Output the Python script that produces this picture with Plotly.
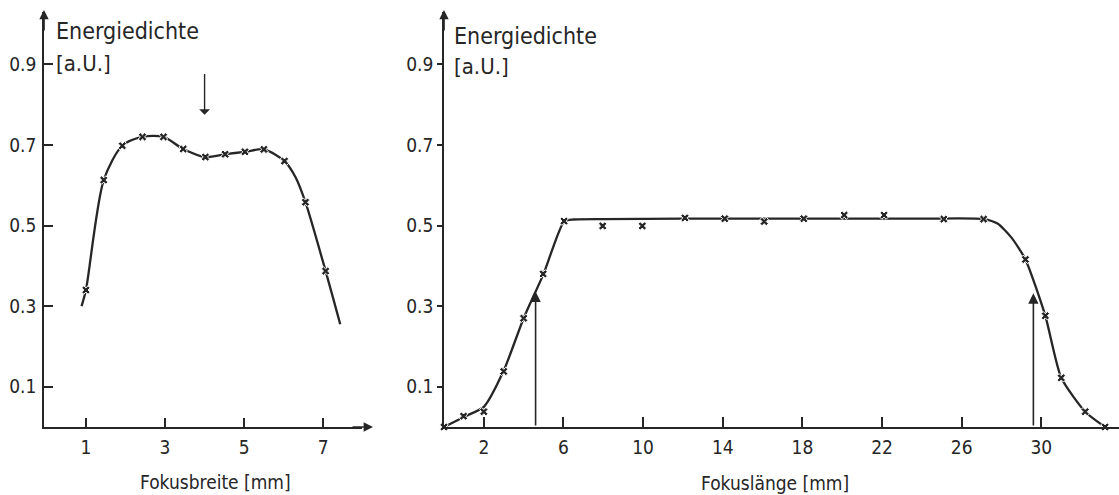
import plotly.graph_objects as go

# ---------------- data ----------------
# Left panel: Fokusbreite [mm] vs Energiedichte [a.U.]
breite_x = [1.0, 1.45, 1.92, 2.43, 2.96, 3.46, 4.02, 4.52, 5.02, 5.5, 6.02, 6.55, 7.06]
breite_y = [0.34, 0.613, 0.698, 0.72, 0.72, 0.69, 0.67, 0.677, 0.683, 0.689, 0.66, 0.558, 0.387]
# smooth hand-drawn curve through the points (with its drawn ends)
breite_curve_x = [0.89, 1.0, 1.45, 1.92, 2.43, 2.96, 3.46, 4.02, 4.52, 5.02, 5.5, 6.02, 6.3, 6.55, 7.06, 7.43]
breite_curve_y = [0.30, 0.34, 0.613, 0.698, 0.72, 0.72, 0.69, 0.67, 0.677, 0.683, 0.689, 0.66, 0.62, 0.558, 0.387, 0.255]

# Right panel: Fokuslänge [mm] vs Energiedichte [a.U.]
laenge_x = [0.0, 0.98, 2.0, 3.0, 4.0, 4.98, 6.03, 7.97, 9.96, 12.1, 14.1, 16.08, 18.07, 20.1, 22.1,
            25.1, 27.1, 29.2, 30.2, 31.0, 32.2, 33.2]
laenge_y = [0.0, 0.027, 0.038, 0.138, 0.27, 0.38, 0.511, 0.499, 0.499, 0.519, 0.517, 0.51, 0.517,
            0.526, 0.526, 0.516, 0.516, 0.416, 0.276, 0.122, 0.038, 0.0]
laenge_curve_x = [0.0, 1.0, 2.0, 3.0, 4.0, 5.0, 6.03, 6.5, 8.0, 12.0, 16.0, 20.0, 24.0, 27.1, 27.8,
                  28.5, 29.2, 30.2, 31.0, 32.2, 33.2]
laenge_curve_y = [0.0, 0.025, 0.05, 0.14, 0.27, 0.38, 0.51, 0.515, 0.516, 0.517, 0.517, 0.517, 0.517,
                  0.516, 0.505, 0.47, 0.416, 0.276, 0.122, 0.038, 0.0]

# marked positions (arrows)
breite_mark_x = 4.0
breite_mark_y = [0.775, 0.88]
laenge_mark_x = [4.6, 29.6]
laenge_mark_top = [0.336, 0.332]

y_ticks = [0.1, 0.3, 0.5, 0.7, 0.9]
breite_ticks = [1, 3, 5, 7]
laenge_ticks = [2, 6, 10, 14, 18, 22, 26, 30]

# ---------------- style ----------------
INK = "#262626"
FONT = "DejaVu Sans Condensed, Liberation Sans Narrow, DejaVu Sans, sans-serif"
W, H = 1119, 495

def px_x(p):
    return p / W

def px_y(p):
    return 1 - p / H

fig = go.Figure()

mk = dict(symbol="x", size=7.5, color=INK, line=dict(color="white", width=1.0))

fig.add_trace(go.Scatter(x=breite_curve_x, y=breite_curve_y, mode="lines",
                         line=dict(color=INK, width=2.3, shape="spline", smoothing=0.8),
                         xaxis="x", yaxis="y", hoverinfo="skip", cliponaxis=False))
fig.add_trace(go.Scatter(x=breite_x, y=breite_y, mode="markers", marker=mk,
                         xaxis="x", yaxis="y", cliponaxis=False))
fig.add_trace(go.Scatter(x=laenge_curve_x, y=laenge_curve_y, mode="lines",
                         line=dict(color=INK, width=2.3, shape="spline", smoothing=0.6),
                         xaxis="x2", yaxis="y2", hoverinfo="skip", cliponaxis=False))
fig.add_trace(go.Scatter(x=laenge_x, y=laenge_y, mode="markers", marker=mk,
                         xaxis="x2", yaxis="y2", cliponaxis=False))

y_dom = [px_y(427), px_y(12)]
y_rng = [0, 1.03]

axis_common = dict(showgrid=False, zeroline=False, showline=True, linecolor=INK, linewidth=1.7,
                   tickcolor=INK, tickwidth=1.7, tickfont=dict(family=FONT, size=19, color=INK))

fig.update_layout(
    width=W, height=H,
    margin=dict(l=0, r=0, t=0, b=0),
    paper_bgcolor="white", plot_bgcolor="white",
    showlegend=False,
    xaxis=dict(domain=[px_x(44), px_x(362)], range=[-0.06, 7.98], tickvals=breite_ticks,
               ticks="inside", ticklen=9, ticklabelstandoff=2, anchor="y", **axis_common),
    yaxis=dict(domain=y_dom, range=y_rng, tickvals=y_ticks, tickformat=".1f",
               ticks="inside", ticklen=9, ticklabelstandoff=2, anchor="x", **axis_common),
    xaxis2=dict(domain=[px_x(444), 1.0], range=[0, 33.9], tickvals=laenge_ticks,
                ticks="inside", ticklen=10, ticklabelstandoff=2, anchor="y2", **axis_common),
    yaxis2=dict(domain=y_dom, range=y_rng, tickvals=y_ticks, tickformat=".1f",
                ticks="outside", ticklen=5, ticklabelstandoff=0, anchor="x2", **axis_common),
)

ann = []
# axis arrowheads
ann.append(dict(xref="paper", yref="paper", x=px_x(44), y=px_y(10), ax=0, ay=22,
                showarrow=True, arrowhead=2, arrowsize=1.1, arrowwidth=1.7, arrowcolor=INK, text=""))
ann.append(dict(xref="paper", yref="paper", x=px_x(373), y=px_y(427), ax=-22, ay=0,
                showarrow=True, arrowhead=2, arrowsize=1.1, arrowwidth=1.7, arrowcolor=INK, text=""))
ann.append(dict(xref="paper", yref="paper", x=px_x(444), y=px_y(10), ax=0, ay=22,
                showarrow=True, arrowhead=2, arrowsize=1.1, arrowwidth=1.7, arrowcolor=INK, text=""))

# marker arrows
ann.append(dict(xref="x", yref="y", axref="x", ayref="y", x=breite_mark_x, y=breite_mark_y[0],
                ax=breite_mark_x, ay=breite_mark_y[1], showarrow=True, arrowhead=1, arrowsize=1.3,
                arrowwidth=1.4, arrowcolor=INK, text=""))
for mx, mt in zip(laenge_mark_x, laenge_mark_top):
    ann.append(dict(xref="x2", yref="y2", axref="x2", ayref="y2", x=mx, y=mt, ax=mx, ay=0,
                    showarrow=True, arrowhead=2, arrowsize=1.3, arrowwidth=1.6, arrowcolor=INK, text=""))

# y titles
for xp, y1, y2 in [(54, 31, 64), (452, 36, 67)]:
    ann.append(dict(xref="paper", yref="paper", x=px_x(xp), y=px_y(y1), xanchor="left", yanchor="middle",
                    text="Energiedichte", showarrow=False, font=dict(family=FONT, size=23, color=INK)))
    ann.append(dict(xref="paper", yref="paper", x=px_x(xp), y=px_y(y2), xanchor="left", yanchor="middle",
                    text="[a.U.]", showarrow=False, font=dict(family=FONT, size=22, color=INK)))

# x titles
ann.append(dict(xref="paper", yref="paper", x=px_x(215), y=px_y(482), xanchor="center", yanchor="middle",
                text="Fokusbreite [mm]", showarrow=False, font=dict(family=FONT, size=19, color=INK)))
ann.append(dict(xref="paper", yref="paper", x=px_x(775), y=px_y(483), xanchor="center", yanchor="middle",
                text="Fokuslänge [mm]", showarrow=False, font=dict(family=FONT, size=19, color=INK)))

fig.update_layout(annotations=ann)

fig.write_html("out.html")
